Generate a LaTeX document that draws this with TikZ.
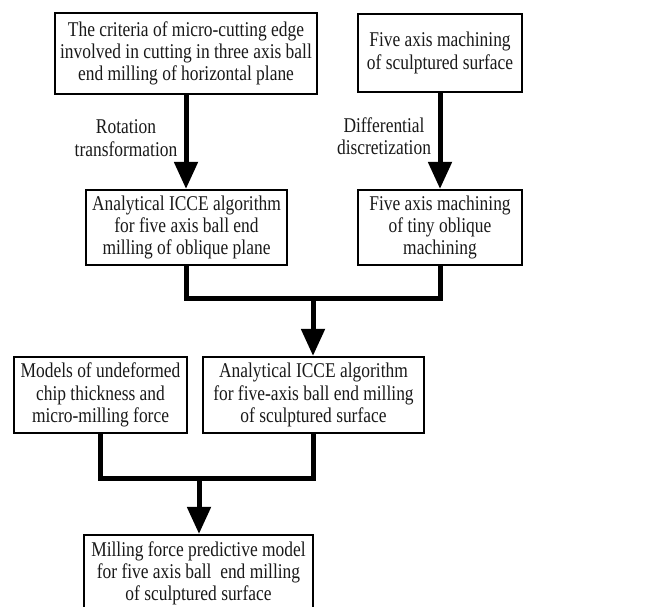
\documentclass[tikz,border=0pt]{standalone}
\usepackage{fontspec}
\setmainfont{Liberation Serif}[FakeStretch=0.83]
\usetikzlibrary{arrows.meta}
\begin{document}
\begin{tikzpicture}[x=1pt,y=-1pt,
  txt/.style={font=\fontsize{21}{22.3}\selectfont, align=center, text=black!90},
  box/.style={txt, draw, line width=2.2pt, inner sep=0pt},
  conn/.style={line width=5pt, line join=miter},
  arr/.style={line width=5pt, -{Triangle[width=23pt,length=27pt]}}]
\useasboundingbox (0,0) rectangle (651,606);
\clip (0,0) rectangle (651,606);
\node[box, minimum width=262pt, minimum height=81pt] (A) at (186,53.5)
  {The criteria of micro-cutting edge\\involved in cutting in three axis ball\\end milling of horizontal plane};
\node[box, minimum width=164pt, minimum height=78pt] (B) at (440,53)
  {Five axis machining\\of sculptured surface};
\node[box, minimum width=201pt, minimum height=75pt] (C) at (186.5,227.5)
  {Analytical ICCE algorithm\\for five axis ball end\\milling of oblique plane};
\node[box, minimum width=164pt, minimum height=75pt] (D) at (440,227.5)
  {Five axis machining\\of tiny oblique\\machining};
\node[box, minimum width=173pt, minimum height=76pt] (E) at (100.5,395)
  {Models of undeformed\\chip thickness and\\micro-milling force};
\node[box, minimum width=221pt, minimum height=76pt] (F) at (313.5,395)
  {Analytical ICCE algorithm\\for five-axis ball end milling\\of sculptured surface};
\node[box, minimum width=229pt, minimum height=77pt] (G) at (198.5,573.5)
  {Milling force predictive model\\for five axis ball\ \ end milling\\of sculptured surface};
\node[txt] (l1) at (126,138) {Rotation\\transformation};
\node[txt] (l2) at (384,136) {Differential\\discretization};
\draw[arr] (A.south) -- (A.south |- C.north);
\draw[arr] (B.south) -- (D.north);
\coordinate (m1) at (313,298);
\draw[conn] (C.south) |- (D.south |- m1) -- (D.south);
\draw[arr] (m1) -- (m1 |- F.north);
\coordinate (m2) at (199,478);
\draw[conn] (E.south) |- (F.south |- m2) -- (F.south);
\draw[arr] (m2) -- (m2 |- G.north);
\end{tikzpicture}
\end{document}
